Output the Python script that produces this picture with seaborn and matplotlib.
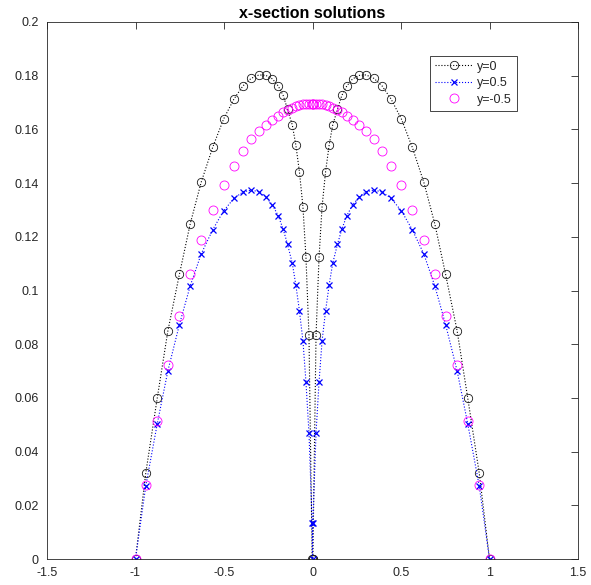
import numpy as np
import pandas as pd
import matplotlib
matplotlib.use("Agg")
import matplotlib.pyplot as plt
import seaborn as sns

# ---- data ----
x_grid = [-1.0, -0.942, -0.877, -0.817, -0.752, -0.691, -0.629, -0.564, -0.502,
          -0.444, -0.393, -0.347, -0.302, -0.263, -0.226, -0.194, -0.166, -0.141,
          -0.114, -0.094, -0.074, -0.054, -0.037, -0.020, -0.002, 0.0, 0.002,
          0.020, 0.037, 0.054, 0.074, 0.094, 0.114, 0.141, 0.166, 0.194, 0.226,
          0.263, 0.302, 0.347, 0.393, 0.444, 0.502, 0.564, 0.629, 0.691, 0.752,
          0.817, 0.877, 0.942, 1.0]

y_0 = [0.0, 0.0320, 0.0600, 0.0850, 0.1060, 0.1248, 0.1403, 0.1533, 0.1639,
       0.1713, 0.1762, 0.1790, 0.1803, 0.1801, 0.1788, 0.1762, 0.1727, 0.1675,
       0.1616, 0.1541, 0.1443, 0.1312, 0.1124, 0.0834, 0.0000, 0.0, 0.0000,
       0.0834, 0.1124, 0.1312, 0.1443, 0.1541, 0.1616, 0.1675, 0.1727, 0.1762,
       0.1788, 0.1801, 0.1803, 0.1790, 0.1762, 0.1713, 0.1639, 0.1533, 0.1403,
       0.1248, 0.1060, 0.0850, 0.0600, 0.0320, 0.0]

y_p05 = [0.0, 0.0272, 0.0504, 0.0701, 0.0873, 0.1017, 0.1136, 0.1226, 0.1297,
         0.1343, 0.1367, 0.1374, 0.1368, 0.1348, 0.1318, 0.1279, 0.1229, 0.1172,
         0.1101, 0.1020, 0.0925, 0.0812, 0.0660, 0.0470, 0.0135, 0.0, 0.0135,
         0.0470, 0.0660, 0.0812, 0.0925, 0.1020, 0.1101, 0.1172, 0.1229, 0.1279,
         0.1318, 0.1348, 0.1368, 0.1374, 0.1367, 0.1343, 0.1297, 0.1226, 0.1136,
         0.1017, 0.0873, 0.0701, 0.0504, 0.0272, 0.0]

y_m05 = [0.0, 0.0274, 0.0515, 0.0724, 0.0905, 0.1061, 0.1189, 0.1301, 0.1394,
         0.1465, 0.1521, 0.1563, 0.1594, 0.1616, 0.1636, 0.1651, 0.1663, 0.1674,
         0.1680, 0.1686, 0.1690, 0.1693, 0.1695, 0.1696, 0.1696, 0.1696, 0.1696,
         0.1696, 0.1695, 0.1693, 0.1690, 0.1686, 0.1680, 0.1674, 0.1663, 0.1651,
         0.1636, 0.1616, 0.1594, 0.1563, 0.1521, 0.1465, 0.1394, 0.1301, 0.1189,
         0.1061, 0.0905, 0.0724, 0.0515, 0.0274, 0.0]

series_labels = ["y=0", "y=0.5", "y=-0.5"]
x_ticks = [-1.5, -1, -0.5, 0, 0.5, 1, 1.5]
x_ticklabels = ["-1.5", "-1", "-0.5", "0", "0.5", "1", "1.5"]
y_ticks = [0, 0.02, 0.04, 0.06, 0.08, 0.1, 0.12, 0.14, 0.16, 0.18, 0.2]
y_ticklabels = ["0", "0.02", "0.04", "0.06", "0.08", "0.1", "0.12", "0.14",
                "0.16", "0.18", "0.2"]
title_text = "x-section solutions"

# ---- style ----
sns.set_style("white")
plt.rcParams["font.family"] = ["Liberation Sans", "DejaVu Sans"]
axc = (0.15, 0.15, 0.15)

fig = plt.figure(figsize=(5.91, 5.85), dpi=100)
ax = fig.add_axes([47 / 591, 26 / 585, 531 / 591, 537 / 585])

df = pd.DataFrame({"x": x_grid, "y0": y_0, "yp": y_p05, "ym": y_m05})

sns.lineplot(data=df, x="x", y="y0", ax=ax, estimator=None, sort=False,
             color="black", linestyle=":", linewidth=0.8,
             marker="o", markersize=6, markerfacecolor="none",
             markeredgecolor=(0.1, 0.1, 0.1), markeredgewidth=0.6,
             label=series_labels[0])
sns.lineplot(data=df, x="x", y="yp", ax=ax, estimator=None, sort=False,
             color="blue", linestyle=":", linewidth=0.8,
             marker="x", markersize=5, markeredgecolor="blue",
             markeredgewidth=0.9, label=series_labels[1])
sns.lineplot(data=df, x="x", y="ym", ax=ax, estimator=None, sort=False,
             color="magenta", linestyle="none",
             marker="o", markersize=6.5, markerfacecolor="none",
             markeredgecolor="magenta", markeredgewidth=0.6,
             label=series_labels[2])

ax.set_xlim(-1.5, 1.5)
ax.set_ylim(0, 0.2)
ax.set_xticks(x_ticks)
ax.set_xticklabels(x_ticklabels)
ax.set_yticks(y_ticks)
ax.set_yticklabels(y_ticklabels)
ax.set_xlabel("")
ax.set_ylabel("")
ax.set_title(title_text, fontsize=11.5, fontweight="bold", color="black", pad=3)

for sp in ax.spines.values():
    sp.set_visible(True)
    sp.set_color(axc)
    sp.set_linewidth(0.6)
ax.tick_params(axis="both", which="both", direction="in", length=5, width=0.6,
               colors=axc, labelsize=9, top=True, right=True,
               labelcolor=axc, pad=6)
ax.grid(False)

leg = ax.legend(loc="upper right", bbox_to_anchor=(0.885, 0.937),
                fontsize=9, frameon=True, fancybox=False, framealpha=1,
                edgecolor=axc, handlelength=3.0, handletextpad=0.35,
                labelspacing=0.35, borderpad=0.4, borderaxespad=0)
leg.get_frame().set_linewidth(0.6)

fig.savefig("out.png", dpi=100, facecolor="white")
